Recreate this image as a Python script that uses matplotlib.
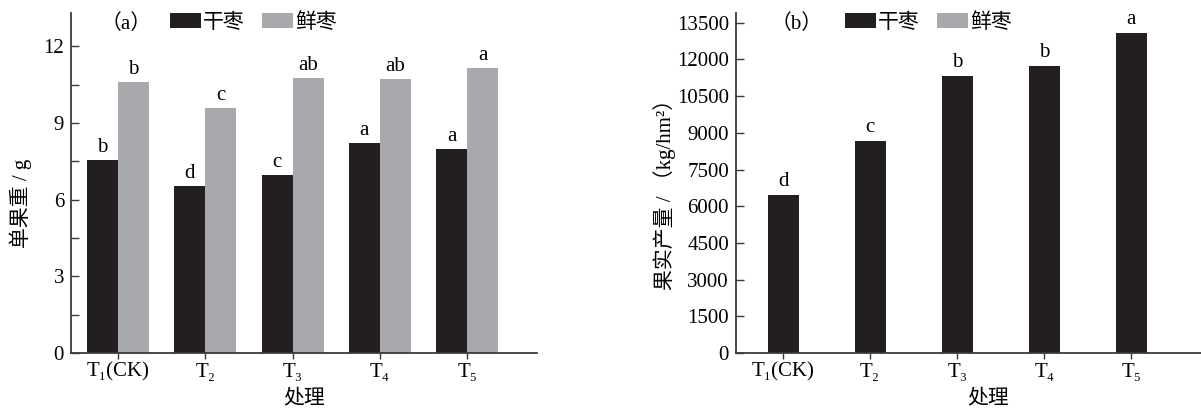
import numpy as np
import matplotlib
matplotlib.use("Agg")
import matplotlib.pyplot as plt
from matplotlib.patches import Patch

plt.rcParams['font.family'] = ['Liberation Serif', 'DejaVu Serif', 'Noto Sans CJK SC']

# data
treatments = ["T₁(CK)", "T₂", "T₃", "T₄", "T₅"]
dry_weight = [7.54, 6.52, 6.96, 8.20, 7.97]
fresh_weight = [10.59, 9.57, 10.74, 10.70, 11.13]
dry_letters = ["b", "d", "c", "a", "a"]
fresh_letters = ["b", "c", "ab", "ab", "a"]
yield_vals = [6470, 8680, 11340, 11750, 13100]
yield_letters = ["d", "c", "b", "b", "a"]
series_names = ["干枣", "鲜枣"]

DARK = "#231f20"
GRAY = "#a7a9ac"
SPINE = "#3a3a3a"
BW = 0.356
FS = 15

fig = plt.figure(figsize=(12.01, 4.13), dpi=100)
ax1 = fig.add_axes([71/1201, 1-353/413, (537-71)/1201, (353-13)/413])
ax2 = fig.add_axes([736/1201, 1-353/413, (1201-736)/1201, (353-13)/413])

x = np.arange(len(treatments))


def style(ax):
    for s in ["top", "right"]:
        ax.spines[s].set_visible(False)
    for s in ["left", "bottom"]:
        ax.spines[s].set_color(SPINE)
        ax.spines[s].set_linewidth(1.3)
    ax.tick_params(axis="y", which="both", direction="in", length=6, width=1,
                   color=SPINE, labelsize=FS, pad=5)
    ax.tick_params(axis="x", direction="out", length=4, width=1, color=SPINE,
                   labelsize=FS, pad=3)
    ax.set_xticks(x)
    ax.set_xticklabels(treatments)
    ax.set_xlim(-0.54, 4.8)


def letters(ax, xs, vals, labs, off):
    for xi, v, lab in zip(xs, vals, labs):
        ax.text(xi, v + off, lab, ha="center", va="bottom", fontsize=FS)


def legend(ax, anchor):
    handles = [Patch(facecolor=DARK, edgecolor="none"), Patch(facecolor=GRAY, edgecolor="none")]
    ax.legend(handles, series_names, loc="upper left", bbox_to_anchor=anchor,
              bbox_transform=fig.transFigure, ncol=2, frameon=False,
              fontsize=15, handlelength=1.5, handleheight=0.75,
              handletextpad=0.1, columnspacing=0.8, borderpad=0, borderaxespad=0)


# (a) single fruit weight
ax1.bar(x - BW/2, dry_weight, BW, color=DARK)
ax1.bar(x + BW/2, fresh_weight, BW, color=GRAY)
letters(ax1, x - BW/2, dry_weight, dry_letters, 0.12)
letters(ax1, x + BW/2, fresh_weight, fresh_letters, 0.12)
ax1.set_ylim(0, 13.3)
ax1.set_yticks([0, 3, 6, 9, 12])
ax1.set_yticks(np.arange(1.5, 13, 3), minor=True)
style(ax1)
ax1.set_ylabel("单果重 / g", fontsize=15)
ax1.yaxis.set_label_coords(-0.084, 0.44)
ax1.set_xlabel("处理", fontsize=15)
ax1.xaxis.set_label_coords(0.5, -0.11)
ax1.text(126/1201, 1-24/413, "（a）", transform=fig.transFigure, ha="center",
         va="center", fontsize=15)
legend(ax1, (170/1201, 1-13/413))

# (b) fruit yield
ax2.bar(x, yield_vals, BW, color=DARK)
letters(ax2, x, yield_vals, yield_letters, 150)
ax2.set_ylim(0, 13900)
ax2.set_yticks(np.arange(0, 13501, 1500))
style(ax2)
ax2.set_ylabel("果实产量 / （kg/hm²）", fontsize=15)
ax2.yaxis.set_label_coords(-0.13, 0.48)
ax2.set_xlabel("处理", fontsize=15)
ax2.xaxis.set_label_coords((988-736)/465, -0.11)
ax2.text(797/1201, 1-24/413, "（b）", transform=fig.transFigure, ha="center",
         va="center", fontsize=15)
legend(ax2, (845/1201, 1-13/413))

fig.savefig("out.png", dpi=100)
